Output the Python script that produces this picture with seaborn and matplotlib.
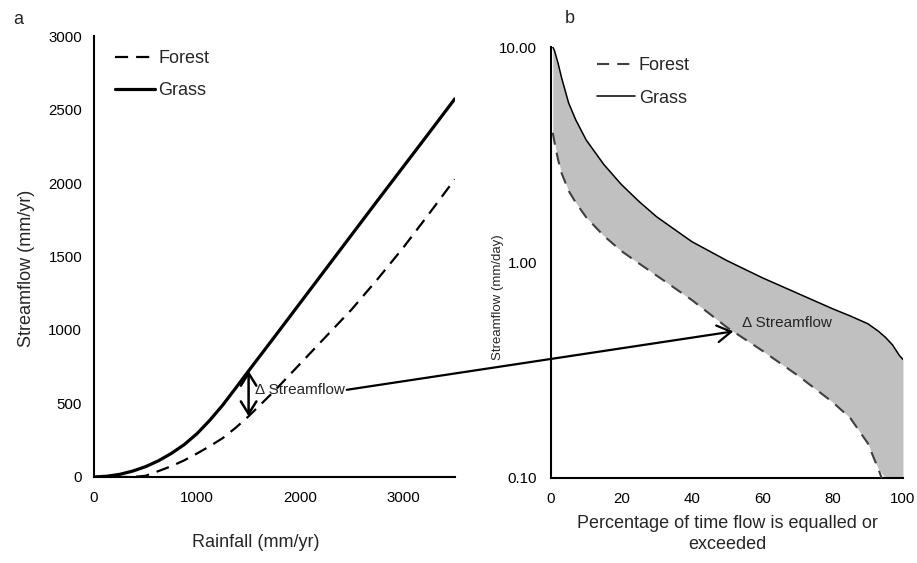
import numpy as np
import pandas as pd
import matplotlib
matplotlib.use("Agg")
import matplotlib.pyplot as plt
import seaborn as sns
from matplotlib.patches import ConnectionPatch
from matplotlib.ticker import NullLocator, FixedLocator, FixedFormatter

# ---------------- data ----------------
# Panel a: annual streamflow vs rainfall
rainfall = [0, 125, 250, 375, 500, 625, 750, 875, 1000, 1125, 1250, 1375, 1500,
            1750, 2000, 2250, 2500, 2750, 3000, 3250, 3500]
grass_q = [0, 5, 18, 40, 70, 110, 160, 220, 295, 387, 490, 605, 722,
           952, 1184, 1416, 1648, 1880, 2110, 2340, 2572]
forest_q = [0, 0, 0, 0, 8, 40, 73, 113, 160, 210, 265, 335, 413,
            585, 770, 955, 1140, 1345, 1560, 1790, 2025]

# Panel b: flow duration curves
exceed_pct = [0.5, 1, 2, 3, 5, 7, 10, 15, 20, 25, 30, 40, 50, 60, 70, 80,
              85, 90, 93, 95, 97, 99, 100]
grass_fdc = [10.0, 9.6, 8.4, 7.2, 5.5, 4.6, 3.7, 2.85, 2.3, 1.92, 1.63, 1.25,
             1.02, 0.85, 0.72, 0.61, 0.565, 0.52, 0.48, 0.45, 0.415, 0.37, 0.355]
forest_fdc = [4.0, 3.6, 3.0, 2.6, 2.15, 1.9, 1.62, 1.33, 1.13, 0.99, 0.87, 0.67,
              0.50, 0.39, 0.30, 0.225, 0.19, 0.145, 0.11, 0.09, 0.07, 0.05, 0.04]

left_yticks = [0, 500, 1000, 1500, 2000, 2500, 3000]
left_xticks = [0, 1000, 2000, 3000]
right_xticks = [0, 20, 40, 60, 80, 100]
right_yticks = [0.1, 1, 10]
right_yticklabels = ["0.10", "1.00", "10.00"]

# ---------------- style ----------------
sns.set_style("white")
plt.rcParams["font.family"] = ["Liberation Sans", "DejaVu Sans"]
plt.rcParams["axes.linewidth"] = 1.5

fig = plt.figure(figsize=(9.17, 5.63), dpi=100)
ax1 = fig.add_axes([0.1025, 0.1528, 0.4959 - 0.1025, 0.936 - 0.1528])
ax2 = fig.add_axes([0.6009, 0.1510, 0.9847 - 0.6009, 0.9165 - 0.1510])

TICK_FS = 10.8
LAB_FS = 13

# ---------------- panel a ----------------
dfa = pd.DataFrame({"rain": rainfall, "grass": grass_q, "forest": forest_q})
sns.lineplot(data=dfa, x="rain", y="forest", ax=ax1, color="black", lw=1.6,
             linestyle=(0, (5.9, 3.6)), label="Forest")
sns.lineplot(data=dfa, x="rain", y="grass", ax=ax1, color="black", lw=2.3,
             label="Grass")
ax1.set_xlim(0, 3500)
ax1.set_ylim(0, 3000)
ax1.set_xticks(left_xticks)
ax1.set_yticks(left_yticks)
for s in ["top", "right"]:
    ax1.spines[s].set_visible(False)
for s in ["left", "bottom"]:
    ax1.spines[s].set_color("black")
ax1.tick_params(axis="both", direction="in", length=5, width=1.5,
                labelsize=TICK_FS, colors="black")
ax1.tick_params(axis="y", pad=8.5)
ax1.tick_params(axis="x", pad=10)
ax1.set_xlabel("Rainfall (mm/yr)", fontsize=LAB_FS)
ax1.set_ylabel("Streamflow (mm/yr)", fontsize=LAB_FS)
ax1.xaxis.set_label_coords(0.449, -0.13)
ax1.yaxis.set_label_coords(-0.163, 0.474)
leg1 = ax1.legend(loc="upper left", bbox_to_anchor=(0.058, 0.968), frameon=False,
                  fontsize=LAB_FS, handlelength=2.2, handletextpad=0.2,
                  labelspacing=0.85, borderpad=0, borderaxespad=0)

# double arrow at 1500 mm
ax1.annotate("", xy=(1500, 413), xytext=(1500, 722),
             arrowprops=dict(arrowstyle="<->,head_length=0.45,head_width=0.28",
                             lw=1.8, color="black", mutation_scale=20,
                             shrinkA=0, shrinkB=0))
ax1.text(1562, 593, "\u0394 Streamflow", fontsize=11, ha="left", va="center")

# ---------------- panel b ----------------
dfb = pd.DataFrame({"pct": exceed_pct, "grass": grass_fdc, "forest": forest_fdc})
ax2.set_yscale("log")
ax2.fill_between(dfb["pct"], np.maximum(dfb["forest"], 0.1), dfb["grass"],
                 color="#c0c0c0", lw=0, zorder=1)
sns.lineplot(data=dfb, x="pct", y="forest", ax=ax2, color="#404040", lw=1.5,
             linestyle=(0, (5.8, 3.9)), label="Forest", zorder=3)
sns.lineplot(data=dfb, x="pct", y="grass", ax=ax2, color="black", lw=1.1,
             label="Grass", zorder=3)
ax2.set_xlim(0, 100)
ax2.set_ylim(0.1, 10)
ax2.set_xticks(right_xticks)
ax2.yaxis.set_major_locator(FixedLocator(right_yticks))
ax2.yaxis.set_major_formatter(FixedFormatter(right_yticklabels))
ax2.yaxis.set_minor_locator(NullLocator())
for s in ["top", "right"]:
    ax2.spines[s].set_visible(False)
for s in ["left", "bottom"]:
    ax2.spines[s].set_color("black")
ax2.tick_params(axis="x", direction="in", length=5, width=1.5, pad=10,
                labelsize=TICK_FS, colors="black")
ax2.tick_params(axis="y", direction="out", length=4, width=1.5, pad=6,
                labelsize=TICK_FS, colors="black")
ax2.set_xlabel("Percentage of time flow is equalled or\nexceeded",
               fontsize=LAB_FS, linespacing=1.3)
ax2.set_ylabel("Streamflow (mm/day)", fontsize=9.5)
ax2.xaxis.set_label_coords(0.5, -0.085)
ax2.yaxis.set_label_coords(-0.134, 0.42)
leg2 = ax2.legend(loc="upper left", bbox_to_anchor=(0.131, 0.976), frameon=False,
                  fontsize=LAB_FS, handlelength=2.1, handletextpad=0.2,
                  labelspacing=0.85, borderpad=0, borderaxespad=0)

ax2.text(54.2, 0.524, "\u0394 Streamflow", fontsize=11, ha="left", va="center",
         zorder=4)

# connector from panel a text to panel b forest curve
con = ConnectionPatch(xyA=(2452, 593), coordsA=ax1.transData,
                      xyB=(51.8, 0.479), coordsB=ax2.transData,
                      arrowstyle="->,head_length=0.5,head_width=0.3",
                      mutation_scale=20, lw=1.6, color="black",
                      shrinkA=0, shrinkB=0, zorder=5)
fig.add_artist(con)

# panel letters
fig.text(0.014, 0.957, "a", fontsize=LAB_FS, ha="left", va="baseline")
fig.text(0.616, 0.959, "b", fontsize=LAB_FS, ha="left", va="baseline")

fig.savefig("out.png", dpi=100)
